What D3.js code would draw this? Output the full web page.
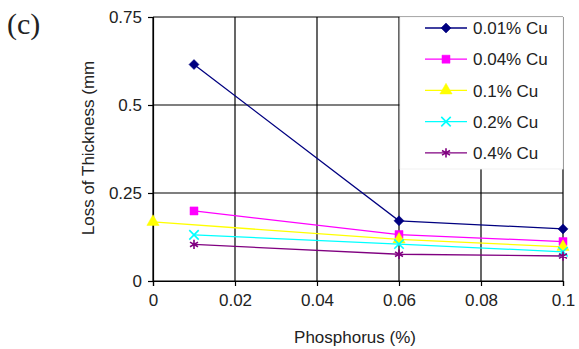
<!DOCTYPE html>
<html>
<head>
<meta charset="utf-8">
<script src="https://cdn.jsdelivr.net/npm/d3@7"></script>
<style>
  body { margin: 0; background: #fff; }
  text { font-family: "Liberation Sans", Arial, sans-serif; fill: #222; }
</style>
</head>
<body>
<div id="chart"></div>
<script>
// chart values
const seriesNames = ["0.01% Cu", "0.04% Cu", "0.1% Cu", "0.2% Cu", "0.4% Cu"];
const cu001 = [{ p: 0.01, loss: 0.615 }, { p: 0.06, loss: 0.171 }, { p: 0.1, loss: 0.148 }];
const cu004 = [{ p: 0.01, loss: 0.199 }, { p: 0.06, loss: 0.132 }, { p: 0.1, loss: 0.112 }];
const cu01  = [{ p: 0, loss: 0.168 }, { p: 0.06, loss: 0.118 }, { p: 0.1, loss: 0.097 }];
const cu02  = [{ p: 0.01, loss: 0.131 }, { p: 0.06, loss: 0.105 }, { p: 0.1, loss: 0.083 }];
const cu04  = [{ p: 0.01, loss: 0.104 }, { p: 0.06, loss: 0.076 }, { p: 0.1, loss: 0.071 }];
const xTicks = [0, 0.02, 0.04, 0.06, 0.08, 0.1];
const yTicks = [0, 0.25, 0.5, 0.75];

const seriesData = [cu001, cu004, cu01, cu02, cu04];
const colors = ["#000080", "#ff00ff", "#ffff00", "#00ffff", "#800080"];
// diamond drawn as a square turned 45 degrees (Excel style)
const symbols = [d3.symbolSquare, d3.symbolSquare, d3.symbolTriangle, d3.symbolX, d3.symbolAsterisk];
const rotations = [45, 0, 0, 0, 0];
const sizes = [50, 65, 65, 60, 60];

const W = 579, H = 349;
const margin = { top: 17, right: 16, bottom: 68, left: 153 };
const width = W - margin.left - margin.right;
const height = H - margin.top - margin.bottom;

const svg = d3.select('#chart')
  .append('svg')
  .attr('width', W)
  .attr('height', H);

const g = svg.append('g')
  .attr('transform', `translate(${margin.left}, ${margin.top})`);

const x = d3.scaleLinear().domain([0, 0.1]).range([0, width]);
const y = d3.scaleLinear().domain([0, 0.75]).range([height, 0]);

// grid
g.selectAll('.vgrid').data(xTicks).enter().append('line')
  .attr('x1', d => x(d)).attr('x2', d => x(d))
  .attr('y1', 0).attr('y2', height)
  .attr('stroke', '#000').attr('stroke-width', 1.2);
g.selectAll('.hgrid').data(yTicks).enter().append('line')
  .attr('x1', 0).attr('x2', width)
  .attr('y1', d => y(d)).attr('y2', d => y(d))
  .attr('stroke', '#000').attr('stroke-width', 1.2);

// axes
const xAxis = g.append('g')
  .attr('transform', 'translate(0, ' + height + ')')
  .call(d3.axisBottom(x).tickValues(xTicks).tickFormat(d3.format('')).tickSize(5).tickPadding(8));
const yAxis = g.append('g')
  .call(d3.axisLeft(y).tickValues(yTicks).tickFormat(d3.format('')).tickSize(5).tickPadding(6));
[xAxis, yAxis].forEach(a => {
  a.select('.domain').attr('stroke', '#000').attr('stroke-width', 1.2);
  a.selectAll('.tick line').attr('stroke', '#000').attr('stroke-width', 1.2);
  a.selectAll('text').style('font-family', '"Liberation Sans", Arial, sans-serif')
    .style('font-size', '17px').attr('fill', '#222');
});

// axis titles
svg.append('text')
  .attr('x', margin.left + width / 2 - 3).attr('y', 343)
  .attr('text-anchor', 'middle').style('font-size', '17px')
  .text('Phosphorus (%)');
svg.append('text')
  .attr('transform', 'translate(94, 148) rotate(-90)')
  .attr('text-anchor', 'middle').style('font-size', '17px')
  .text('Loss of Thickness (mm');

svg.append('text')
  .attr('x', 7).attr('y', 34)
  .style('font-family', '"Liberation Serif", "Times New Roman", serif')
  .style('font-size', '30px').attr('fill', '#111')
  .text('(c)');

// lines and markers
const valueLine = d3.line()
  .x(d => x(d.p))
  .y(d => y(d.loss));

function drawMarker(sel, i) {
  const isLine = i >= 3;
  sel.attr('d', d3.symbol().type(symbols[i]).size(sizes[i]))
    .attr('fill', isLine ? 'none' : colors[i])
    .attr('stroke', colors[i])
    .attr('stroke-width', isLine ? 1.6 : 0.5);
}

seriesData.forEach((data, i) => {
  g.append('path')
    .datum(data)
    .attr('fill', 'none')
    .attr('stroke', colors[i])
    .attr('stroke-width', 1.3)
    .attr('d', valueLine);
  g.selectAll('.m' + i).data(data).enter().append('path')
    .attr('transform', d => `translate(${x(d.p)}, ${y(d.loss)}) rotate(${rotations[i]})`)
    .call(drawMarker, i);
});

// legend
const legend = svg.append('g');
legend.append('rect')
  .attr('x', 400).attr('y', 17).attr('width', 163).attr('height', 152)
  .attr('fill', '#fff').attr('stroke', '#eee').attr('stroke-width', 0.8);
seriesNames.forEach((name, i) => {
  const ly = 28 + i * 31.2;
  legend.append('line')
    .attr('x1', 425).attr('x2', 467).attr('y1', ly).attr('y2', ly)
    .attr('stroke', colors[i]).attr('stroke-width', 1.3);
  legend.append('path')
    .attr('transform', `translate(446, ${ly}) rotate(${rotations[i]})`)
    .call(drawMarker, i);
  legend.append('text')
    .attr('x', 473).attr('y', ly).attr('dy', '0.36em')
    .style('font-size', '17px')
    .text(name);
});
</script>
</body>
</html>
